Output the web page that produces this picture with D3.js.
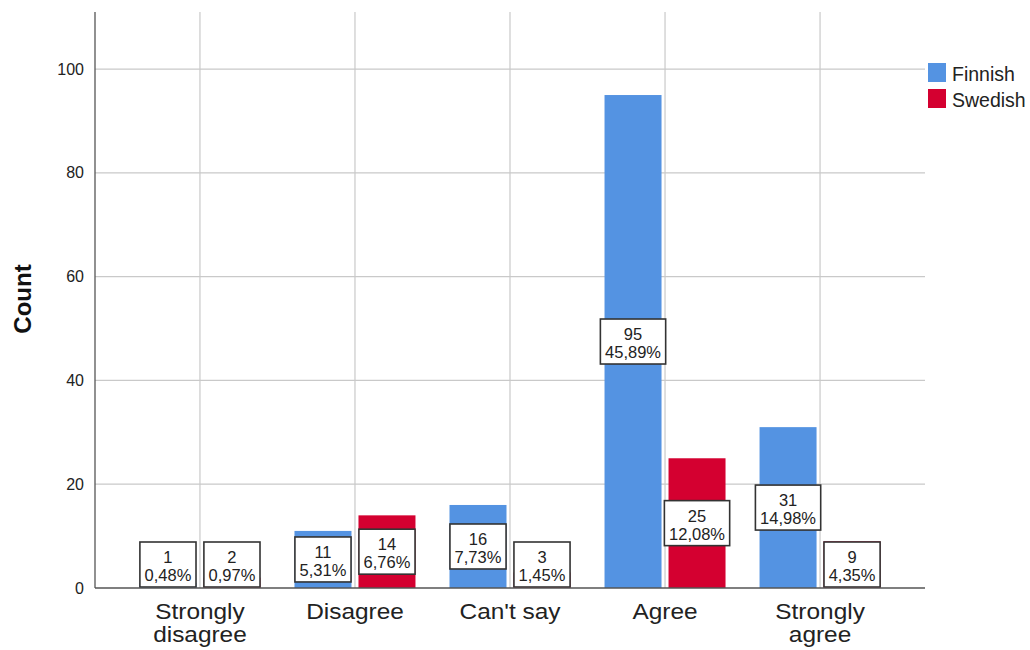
<!DOCTYPE html>
<html>
<head>
<meta charset="utf-8">
<script src="https://cdn.jsdelivr.net/npm/d3@7/dist/d3.min.js"></script>
<style>
  html, body { margin: 0; padding: 0; background: #fff; }
  svg { display: block; font-family: "Liberation Sans", Arial, sans-serif; }
</style>
</head>
<body>
<svg id="chart" width="1030" height="650"></svg>
<script>
// Survey responses by language group
const categories = ["Strongly disagree", "Disagree", "Can't say", "Agree", "Strongly agree"];
const seriesNames = ["Finnish", "Swedish"];
const finnish = [1, 11, 16, 95, 31];
const swedish = [2, 14, 3, 25, 9];
const yTicks = [0, 20, 40, 60, 80, 100];

const colors = { Finnish: "#5493E2", Swedish: "#D40030" };

const svg = d3.select("#chart");
const plot = { left: 95, right: 925, top: 12, bottom: 588 };

const total = d3.sum(finnish) + d3.sum(swedish);
const pctFmt = v => d3.format(".2f")(v / total * 100).replace(".", ",") + "%";

const x0 = d3.scaleBand()
  .domain(categories)
  .range([plot.left, plot.right])
  .paddingInner(0)
  .paddingOuter(0.177);

const groupWidth = 121;
const x1 = d3.scaleBand()
  .domain(seriesNames)
  .range([-groupWidth / 2, groupWidth / 2])
  .paddingInner(7 / 64)
  .paddingOuter(0);

const y = d3.scaleLinear()
  .domain([0, 111])
  .range([plot.bottom, plot.top]);

// horizontal gridlines
svg.append("g")
  .selectAll("line")
  .data(yTicks.filter(d => d > 0))
  .join("line")
  .attr("x1", plot.left).attr("x2", plot.right)
  .attr("y1", d => y(d)).attr("y2", d => y(d))
  .attr("stroke", "#c9c9c9").attr("stroke-width", 1.2);

// vertical gridlines at category centres
svg.append("g")
  .selectAll("line")
  .data(categories)
  .join("line")
  .attr("x1", d => x0(d) + x0.bandwidth() / 2)
  .attr("x2", d => x0(d) + x0.bandwidth() / 2)
  .attr("y1", plot.top).attr("y2", plot.bottom)
  .attr("stroke", "#c9c9c9").attr("stroke-width", 1.2);

const rows = categories.map((c, i) => ({
  category: c,
  values: [
    { series: "Finnish", value: finnish[i] },
    { series: "Swedish", value: swedish[i] }
  ]
}));

// bars
const groups = svg.append("g")
  .selectAll("g")
  .data(rows)
  .join("g")
  .attr("transform", d => `translate(${x0(d.category) + x0.bandwidth() / 2},0)`);

groups.selectAll("rect")
  .data(d => d.values)
  .join("rect")
  .attr("x", d => x1(d.series))
  .attr("width", x1.bandwidth())
  .attr("y", d => y(d.value))
  .attr("height", d => y(0) - y(d.value))
  .attr("fill", d => colors[d.series]);

// axes
const yAxis = svg.append("g")
  .attr("transform", `translate(${plot.left},0)`)
  .call(d3.axisLeft(y).tickValues(yTicks).tickSize(0).tickPadding(11).tickFormat(d3.format("d")));
yAxis.select(".domain").remove();
yAxis.selectAll("text")
  .attr("font-size", 16)
  .attr("fill", "#222")
  .attr("font-family", "Liberation Sans, Arial, sans-serif");

svg.append("line")
  .attr("x1", plot.left).attr("x2", plot.left)
  .attr("y1", plot.top).attr("y2", plot.bottom)
  .attr("stroke", "#555").attr("stroke-width", 1.3);
svg.append("line")
  .attr("x1", plot.left).attr("x2", plot.right)
  .attr("y1", plot.bottom).attr("y2", plot.bottom)
  .attr("stroke", "#555").attr("stroke-width", 1.3);

const xAxis = svg.append("g")
  .attr("transform", `translate(0,${plot.bottom})`)
  .call(d3.axisBottom(x0).tickSize(0).tickFormat(""));
xAxis.select(".domain").remove();

// category labels, wrapped onto two lines when long
const xScaleText = 1.11;
xAxis.selectAll(".tick").each(function (d) {
  const g = d3.select(this);
  const t = g.append("text")
    .attr("text-anchor", "middle")
    .attr("font-size", 22)
    .attr("fill", "#222")
    .attr("font-family", "Liberation Sans, Arial, sans-serif")
    .attr("transform", `scale(${xScaleText},1)`);
  t.text(d);
  const full = t.node().getComputedTextLength() * xScaleText;
  if (full > 130) {
    const words = d.split(" ");
    t.text(null);
    words.forEach((w, i) => {
      t.append("tspan").attr("x", 0).attr("y", 31 + i * 23).text(w);
    });
  } else {
    t.attr("y", 31);
  }
});

// value labels: count and share of total
const labels = groups.selectAll("g.vlabel")
  .data(d => d.values)
  .join("g")
  .attr("class", "vlabel");

labels.each(function (d) {
  const g = d3.select(this);
  const cx = x1(d.series) + x1.bandwidth() / 2;
  const boxH = 45;
  const mid = (y(d.value) + y(0)) / 2;
  const cy = Math.min(mid, y(0) - boxH / 2 - 1);
  const rect = g.append("rect");
  const t = g.append("text")
    .attr("text-anchor", "middle")
    .attr("font-size", 16.5)
    .attr("fill", "#222")
    .attr("font-family", "Liberation Sans, Arial, sans-serif");
  t.append("tspan").attr("x", cx).attr("y", cy - boxH / 2 + 21).text(d.value);
  t.append("tspan").attr("x", cx).attr("y", cy - boxH / 2 + 39).text(pctFmt(d.value));
  const w = t.node().getBBox().width + 9;
  rect.attr("x", cx - w / 2).attr("y", cy - boxH / 2)
    .attr("width", w).attr("height", boxH)
    .attr("fill", "#fff").attr("stroke", "#333").attr("stroke-width", 1.6);
});

// y-axis title
svg.append("text")
  .attr("transform", "translate(31,299) rotate(-90)")
  .attr("text-anchor", "middle")
  .attr("font-size", 24)
  .attr("font-weight", "bold")
  .attr("fill", "#111")
  .text("Count");

// legend
const legend = svg.append("g").attr("transform", "translate(928,63)");
const li = legend.selectAll("g")
  .data(seriesNames)
  .join("g")
  .attr("transform", (d, i) => `translate(0,${i * 26})`);
li.append("rect")
  .attr("width", 18).attr("height", 19)
  .attr("fill", d => colors[d]);
li.append("text")
  .attr("x", 24).attr("y", 18)
  .attr("font-size", 19.5)
  .attr("fill", "#222")
  .text(d => d);
</script>
</body>
</html>
